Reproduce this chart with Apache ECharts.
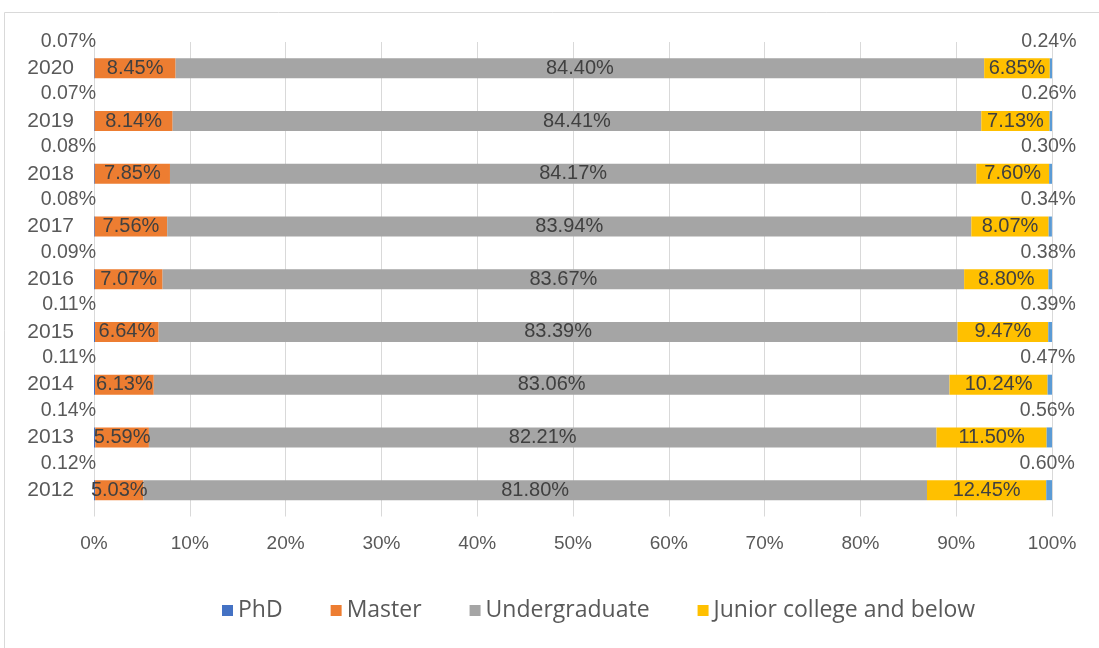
<!DOCTYPE html>
<html><head><meta charset="utf-8">
<script src="https://cdn.jsdelivr.net/npm/echarts@6/dist/echarts.min.js"></script>
<style>html,body{margin:0;padding:0;background:#fff}#c{width:1099px;height:648px}</style>
</head><body><div id="c"></div>
<script>
const years = ['2012','2013','2014','2015','2016','2017','2018','2019','2020'];
const phd = [0.12,0.14,0.11,0.11,0.09,0.08,0.08,0.07,0.07];
const master = [5.03,5.59,6.13,6.64,7.07,7.56,7.85,8.14,8.45];
const undergrad = [81.80,82.21,83.06,83.39,83.67,83.94,84.17,84.41,84.40];
const junior = [12.45,11.50,10.24,9.47,8.80,8.07,7.60,7.13,6.85];
const other = [0.60,0.56,0.47,0.39,0.38,0.34,0.30,0.26,0.24];
const xTicks = [0,10,20,30,40,50,60,70,80,90,100];

const FONT = 'Liberation Sans';
const txt = '#595959';
const fmt = p => p.value.toFixed(2) + '%';
const inLabel = {show:true, position:'inside', color:'#404040', fontSize:20, fontFamily:FONT, formatter:fmt};

const chart = echarts.init(document.getElementById('c'), null, {renderer:'canvas'});
chart.setOption({
  animation:false,
  backgroundColor:'#fff',
  graphic:[{type:'rect', shape:{x:4.5,y:12.5,width:1200,height:700}, style:{fill:'none', stroke:'#d9d9d9', lineWidth:1}}],
  grid:{left:94, right:47, top:42, bottom:131.5},
  legend:{
    data:['PhD','Master','Undergraduate','Junior college and below'],
    top:599, left:222, padding:0, itemWidth:11, itemHeight:11, itemGap:48, icon:'rect',
    textStyle:{color:txt, fontSize:23, fontFamily:'Open Sans'}
  },
  xAxis:{
    type:'value', min:xTicks[0], max:xTicks[xTicks.length-1], interval:10,
    axisLabel:{color:txt, fontSize:19, fontFamily:FONT, margin:18, formatter:v=>v+'%'},
    axisLine:{show:false}, axisTick:{show:false},
    splitLine:{lineStyle:{color:'#d9d9d9', width:1}}
  },
  yAxis:{
    type:'category', data:years,
    axisLabel:{color:txt, fontSize:21, fontFamily:FONT, margin:20},
    axisLine:{show:false}, axisTick:{show:false}
  },
  series:[
    {name:'PhD', type:'bar', stack:'s', data:phd, barWidth:20, itemStyle:{color:'#4472C4'},
     label:{show:true, position:[2,-17], align:'right', verticalAlign:'middle', color:txt, fontSize:19.5, fontFamily:FONT, formatter:fmt}},
    {name:'Master', type:'bar', stack:'s', data:master, itemStyle:{color:'#ED7D31'}, label:inLabel},
    {name:'Undergraduate', type:'bar', stack:'s', data:undergrad, itemStyle:{color:'#A5A5A5'}, label:inLabel},
    {name:'Junior college and below', type:'bar', stack:'s', data:junior, itemStyle:{color:'#FFC000'}, label:inLabel},
    {name:'Other', type:'bar', stack:'s', data:other, itemStyle:{color:'#5B9BD5'},
     label:{show:true, position:'top', distance:7, offset:[-2,0], color:txt, fontSize:19.5, fontFamily:FONT, formatter:fmt}}
  ]
});
</script></body></html>
